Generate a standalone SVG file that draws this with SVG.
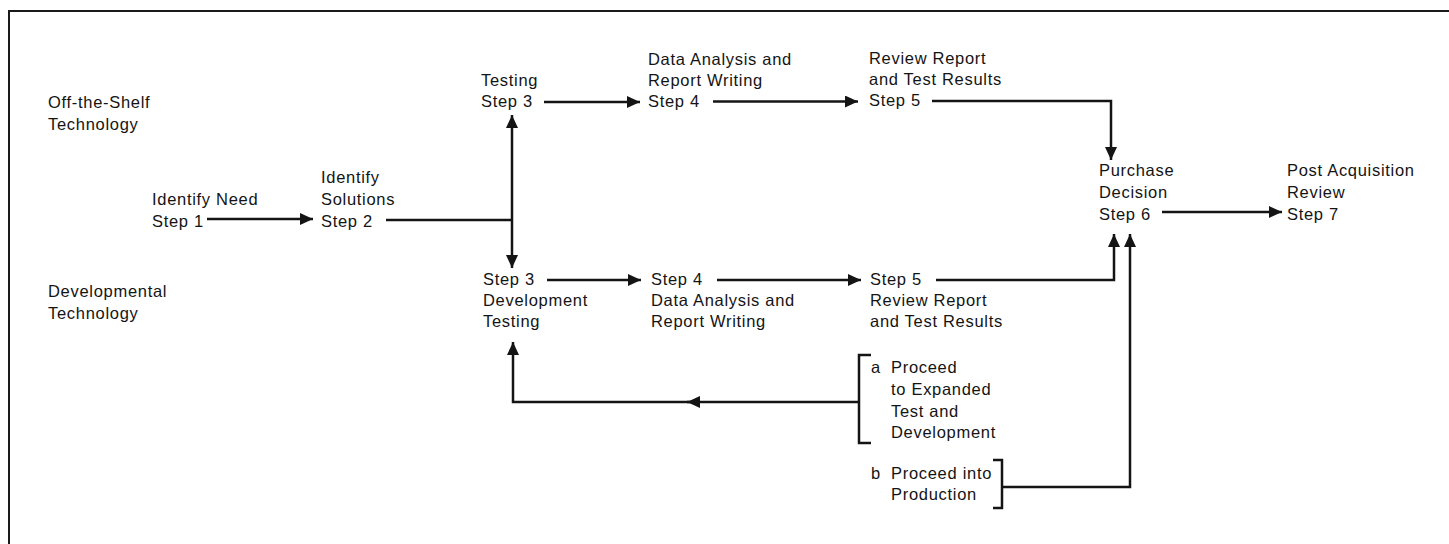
<svg xmlns="http://www.w3.org/2000/svg" width="1449" height="544" viewBox="0 0 1449 544">
  <defs>
    <style>
      .t { font-family: "Liberation Sans", Arial, sans-serif; font-size: 16.5px; letter-spacing: 0.7px; fill: #141414; }
      .ln { fill: none; stroke: #141414; stroke-width: 2.5; stroke-linejoin: miter; }
      .frame { fill: none; stroke: #1a1a1a; stroke-width: 2; }
    </style>
    <marker id="arr" markerUnits="userSpaceOnUse" markerWidth="15" markerHeight="13" refX="13" refY="6" orient="auto">
      <path d="M0,0 L13,6 L0,12 Z" fill="#141414"/>
    </marker>
  </defs>

  <rect width="1449" height="544" fill="#ffffff"/>

  <!-- frame -->
  <path class="frame" d="M1449,11 H9 V544"/>

  <!-- connectors -->
  <g id="connectors">
    <path class="ln" d="M207,219 H313" marker-end="url(#arr)"/>
    <path class="ln" d="M386,220 H512"/>
    <path class="ln" d="M512,220 V115" marker-end="url(#arr)"/>
    <path class="ln" d="M512,220 V268" marker-end="url(#arr)"/>
    <path class="ln" d="M544,102 H640" marker-end="url(#arr)"/>
    <path class="ln" d="M713,101.5 H858" marker-end="url(#arr)"/>
    <path class="ln" d="M932,101 H1111 V160" marker-end="url(#arr)"/>
    <path class="ln" d="M1162,212 H1282" marker-end="url(#arr)"/>
    <path class="ln" d="M547,280 H641" marker-end="url(#arr)"/>
    <path class="ln" d="M717,280 H861" marker-end="url(#arr)"/>
    <path class="ln" d="M936,280 H1114 V234" marker-end="url(#arr)"/>
    <path class="ln" d="M1002,487 H1130 V234" marker-end="url(#arr)"/>
    <path class="ln" d="M859,402 H687" marker-end="url(#arr)"/>
    <path class="ln" d="M690,402 H513 V342" marker-end="url(#arr)"/>
    <!-- option brackets -->
    <path class="ln" d="M871,355 H859 V443 H871"/>
    <path class="ln" d="M993,460 H1002 V508 H993"/>
  </g>

  <!-- left-hand track labels -->
  <g id="track-off-the-shelf">
    <text class="t" x="48" y="108">Off-the-Shelf</text>
    <text class="t" x="48" y="130">Technology</text>
  </g>
  <g id="track-developmental">
    <text class="t" x="48" y="297">Developmental</text>
    <text class="t" x="48" y="319">Technology</text>
  </g>

  <g id="step1">
    <text class="t" x="152" y="205">Identify Need</text>
    <text class="t" x="152" y="227">Step 1</text>
  </g>
  <g id="step2">
    <text class="t" x="321" y="183">Identify</text>
    <text class="t" x="321" y="205">Solutions</text>
    <text class="t" x="321" y="227">Step 2</text>
  </g>

  <g id="step3-shelf">
    <text class="t" x="481" y="86">Testing</text>
    <text class="t" x="481" y="107">Step 3</text>
  </g>
  <g id="step4-shelf">
    <text class="t" x="648" y="65">Data Analysis and</text>
    <text class="t" x="648" y="86">Report Writing</text>
    <text class="t" x="648" y="107">Step 4</text>
  </g>
  <g id="step5-shelf">
    <text class="t" x="869" y="64">Review Report</text>
    <text class="t" x="869" y="85">and Test Results</text>
    <text class="t" x="869" y="106">Step 5</text>
  </g>

  <g id="step6">
    <text class="t" x="1099" y="176">Purchase</text>
    <text class="t" x="1099" y="198">Decision</text>
    <text class="t" x="1099" y="220">Step 6</text>
  </g>
  <g id="step7">
    <text class="t" x="1287" y="176">Post Acquisition</text>
    <text class="t" x="1287" y="198">Review</text>
    <text class="t" x="1287" y="220">Step 7</text>
  </g>

  <g id="step3-dev">
    <text class="t" x="483" y="285">Step 3</text>
    <text class="t" x="483" y="306">Development</text>
    <text class="t" x="483" y="327">Testing</text>
  </g>
  <g id="step4-dev">
    <text class="t" x="651" y="285">Step 4</text>
    <text class="t" x="651" y="306">Data Analysis and</text>
    <text class="t" x="651" y="327">Report Writing</text>
  </g>
  <g id="step5-dev">
    <text class="t" x="870" y="285">Step 5</text>
    <text class="t" x="870" y="306">Review Report</text>
    <text class="t" x="870" y="327">and Test Results</text>
  </g>

  <g id="option-a">
    <text class="t" x="871" y="373">a</text>
    <text class="t" x="891" y="373">Proceed</text>
    <text class="t" x="891" y="395">to Expanded</text>
    <text class="t" x="891" y="417">Test and</text>
    <text class="t" x="891" y="438">Development</text>
  </g>
  <g id="option-b">
    <text class="t" x="871" y="479">b</text>
    <text class="t" x="891" y="479">Proceed into</text>
    <text class="t" x="891" y="500">Production</text>
  </g>
</svg>
